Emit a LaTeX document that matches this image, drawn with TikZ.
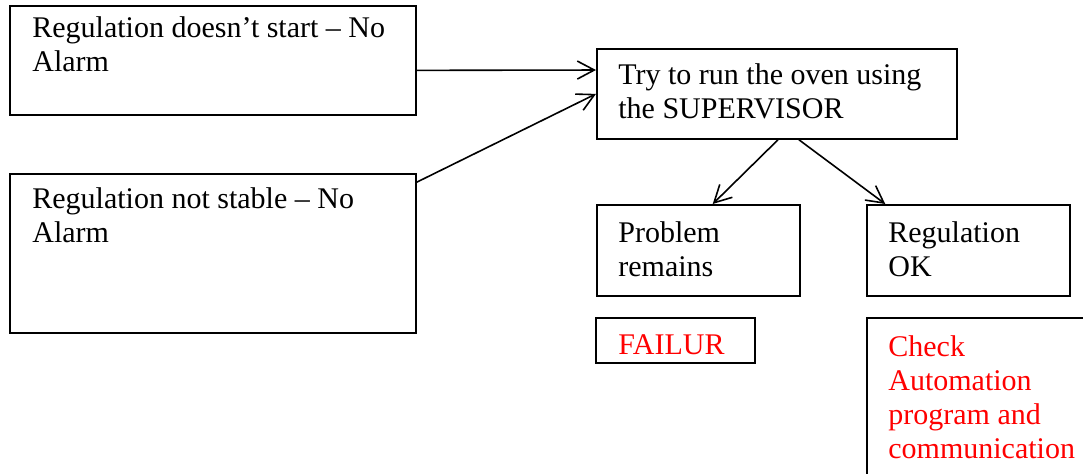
\documentclass[tikz,border=0pt]{standalone}
\usepackage{fontspec}
\setmainfont{Liberation Serif}
\usetikzlibrary{arrows.meta,calc}
\tikzset{
  frame/.style={draw, line width=0.9pt, rectangle, inner sep=0pt, anchor=north west},
  % a multi-line label is placed by the baseline of its last line
  label/.style={anchor=base west, inner sep=0pt, align=left,
    font=\fontsize{15pt}{17pt}\selectfont},
  redtext/.style={label, text=red},
  link/.style={line width=0.8pt, -{Straight Barb[length=8.5pt,width=9pt,line width=0.8pt]}}
}
\begin{document}
\begin{tikzpicture}[x=0.5pt,y=-0.5pt]
  \clip (0,0) rectangle (1083,474);
  \fill[white] (0,0) rectangle (1083,474);

  % boxes (positions in pixels of a 1083 x 474 page)
  \node[frame, minimum width=203pt, minimum height=54.5pt] (A) at (9,5) {};
  \node[frame, minimum width=203pt, minimum height=79.5pt] (B) at (9,173) {};
  \node[frame, minimum width=180pt, minimum height=45pt] (C) at (596,48) {};
  \node[frame, minimum width=101.5pt, minimum height=45.5pt] (D) at (596,204) {};
  \node[frame, minimum width=101.5pt, minimum height=45.5pt] (E) at (866,204) {};
  \node[frame, minimum width=79.5pt, minimum height=22.5pt] (F) at (595,317) {};
  \node[frame, minimum width=120pt, minimum height=90pt] (G) at (866,317) {};

  % texts
  \node[label] (tA) at (32,72) {Regulation doesn’t start – No\\Alarm};
  \node[label] (tB) at (32,243) {Regulation not stable – No\\Alarm};
  \node[label] (tC) at (618,119) {Try to run the oven using\\the SUPERVISOR};
  \node[label] (tD) at (618,277) {Problem\\remains};
  \node[label] (tE) at (888,277) {Regulation\\OK};
  \node[redtext] (tF) at (618,355) {FAILUR};
  \node[redtext] (tG) at (888,459) {Check\\Automation\\program and\\communication};

  % connectors
  \draw[link] ($(A.north east)!0.59!(A.south east)$) -- ($(C.north west)!0.24!(C.south west)$);
  \draw[link] ($(B.north east)!0.057!(B.south east)$) -- ($(C.north west)!0.5!(C.south west)$);
  \draw[link] ($(C.south west)!0.503!(C.south east)$) -- ($(D.north west)!0.57!(D.north east)$);
  \draw[link] ($(C.south west)!0.561!(C.south east)$) -- ($(E.north west)!0.094!(E.north east)$);
\end{tikzpicture}
\end{document}
